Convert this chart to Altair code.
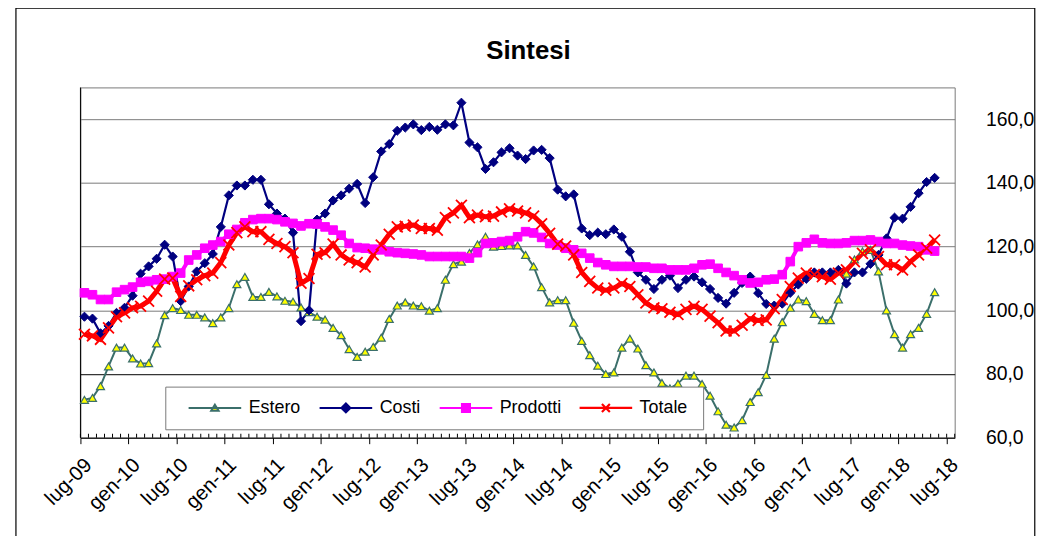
import altair as alt
import pandas as pd

series_names = ["Estero", "Costi", "Prodotti", "Totale"]

estero = [71.9, 72.5, 76.2, 82.4, 88.3, 88.3, 84.9, 83.3, 83.4, 89.6,
          98.5, 100.7, 100.1, 98.6, 98.6, 97.8, 96.0, 97.8, 100.7, 108.2,
          110.5, 104.2, 104.2, 105.8, 104.4, 103.0, 102.7, 100.9, 99.4, 98.0,
          97.1, 94.5, 92.2, 87.8, 85.4, 87.0, 88.5, 91.4, 97.3, 101.5,
          102.5, 101.5, 101.3, 99.9, 100.7, 109.6, 114.5, 115.3, 118.0, 120.7,
          123.1, 120.0, 120.2, 120.4, 120.4, 117.4, 113.8, 107.3, 102.5, 103.2,
          103.2, 96.1, 90.4, 85.9, 82.6, 80.0, 80.5, 88.3, 91.1, 88.0,
          82.8, 80.5, 77.2, 75.5, 77.0, 79.5, 79.5, 76.9, 73.2, 68.3,
          64.1, 63.2, 65.5, 71.2, 74.3, 79.7, 91.1, 96.3, 100.8, 103.4,
          102.9, 98.9, 96.9, 96.9, 103.4, 111.5, 116.0, 118.5, 119.0, 112.2,
          100.0, 92.5, 88.3, 92.5, 94.5, 98.9, 105.7]

costi = [98.0, 97.4, 92.8, 95.1, 99.2, 100.8, 104.6, 111.5, 113.8, 116.2,
         120.6, 116.9, 102.9, 107.5, 112.2, 114.8, 117.7, 126.2, 136.1, 139.2,
         139.2, 141.0, 141.0, 133.3, 130.4, 128.8, 124.4, 96.6, 100.0, 128.5,
         130.4, 134.5, 136.1, 138.2, 139.7, 133.7, 141.8, 149.9, 152.2, 156.4,
         157.4, 158.4, 156.6, 157.6, 156.7, 158.4, 158.1, 165.2, 152.7, 151.2,
         144.4, 146.5, 149.6, 150.9, 148.6, 147.5, 150.2, 150.4, 147.8, 137.9,
         135.8, 136.4, 125.7, 123.6, 124.4, 123.9, 125.4, 123.1, 118.4, 111.9,
         109.6, 106.7, 109.6, 110.9, 107.0, 109.6, 110.6, 108.8, 106.7, 103.9,
         102.1, 105.5, 108.6, 110.6, 105.4, 102.0, 101.5, 102.1, 105.5, 108.1,
         109.9, 111.9, 111.9, 111.9, 112.7, 108.4, 111.9, 111.9, 114.6, 117.4,
         122.6, 129.1, 128.8, 132.5, 136.8, 140.3, 141.6]

prodotti = [105.5, 104.9, 103.4, 103.4, 105.7, 106.5, 107.3, 108.8, 109.1, 109.6,
            109.8, 110.6, 111.7, 115.8, 117.4, 119.5, 120.5, 121.6, 123.9, 125.4,
            127.5, 128.5, 128.8, 128.8, 128.5, 127.8, 127.3, 126.5, 127.2, 127.1,
            126.2, 125.2, 123.6, 121.0, 119.7, 119.5, 119.2, 119.0, 118.4, 118.1,
            117.9, 117.7, 117.4, 116.9, 116.9, 116.9, 116.9, 116.9, 116.4, 118.1,
            121.0, 121.2, 121.6, 121.9, 123.1, 124.7, 124.3, 122.9, 121.0, 120.5,
            119.5, 119.0, 117.9, 116.4, 115.0, 114.3, 113.8, 113.8, 113.8, 113.6,
            113.6, 113.2, 113.2, 112.7, 112.7, 112.7, 113.2, 114.3, 114.5, 113.2,
            111.9, 110.9, 109.6, 108.6, 108.8, 109.6, 109.8, 111.2, 115.3, 120.0,
            121.2, 122.3, 121.2, 121.0, 121.0, 121.2, 121.9, 121.9, 122.1, 121.6,
            121.0, 121.0, 120.5, 120.2, 120.0, 119.0, 118.6]

totale = [92.5, 92.0, 90.9, 94.5, 98.0, 99.2, 100.8, 101.3, 102.9, 106.0,
          109.8, 110.1, 104.4, 107.7, 109.6, 110.9, 111.7, 115.0, 120.5, 124.4,
          126.2, 124.7, 124.7, 122.3, 121.0, 120.0, 118.1, 108.5, 110.0, 117.6,
          118.1, 120.8, 117.4, 115.8, 115.0, 113.6, 117.4, 120.5, 123.9, 126.2,
          126.4, 126.8, 125.7, 125.7, 125.2, 129.1, 130.6, 133.0, 129.1, 129.9,
          129.4, 129.6, 130.9, 131.9, 131.2, 130.6, 129.6, 127.2, 124.2, 120.8,
          120.2, 117.4, 111.9, 109.1, 107.0, 106.3, 107.0, 108.4, 107.5, 104.9,
          102.3, 100.8, 100.5, 99.4, 98.7, 100.3, 101.3, 100.3, 98.2, 96.1,
          93.5, 93.5, 95.3, 97.4, 96.8, 97.0, 100.5, 103.4, 107.5, 110.1,
          111.7, 111.2, 110.6, 109.8, 111.7, 112.7, 115.3, 117.9, 119.0, 116.9,
          114.3, 114.3, 112.7, 115.3, 117.4, 119.5, 122.1]

tick_labels = ["lug-09", "gen-10", "lug-10", "gen-11", "lug-11", "gen-12",
               "lug-12", "gen-13", "lug-13", "gen-14", "lug-14", "gen-15",
               "lug-15", "gen-16", "lug-16", "gen-17", "lug-17", "gen-18",
               "lug-18"]
n_months = 109  # monthly categories from lug-09 to lug-18
y_ticks = [60, 80, 100, 120, 140, 160]

line_colors = ["#3b6f6b", "#000080", "#ff00ff", "#ff0000"]
marker_fills = ["#ffff00", "#000080", "#ff00ff", "#ff0000"]
line_widths = [2, 2.2, 4, 5]

rows = []
for name, vals in zip(series_names, [estero, costi, prodotti, totale]):
    for i, v in enumerate(vals):
        rows.append({"series": name, "m": i + 0.5, "v": v})
df = pd.DataFrame(rows)
ticks_df = pd.DataFrame({"m": list(range(n_months + 1))})

W, H = 881, 353
FONT = "Liberation Sans"

xscale = alt.Scale(domain=[0, n_months], nice=False, zero=False)
yscale = alt.Scale(domain=[60, 170], nice=False, zero=False)

label_array = "[" + ",".join("'%s'" % l for l in tick_labels) + "]"
x_axis = alt.Axis(values=list(range(0, n_months + 1, 6)),
                  labelExpr=label_array + "[round(datum.value/6)]",
                  labelAngle=-45, labelAlign="right", labelBaseline="middle",
                  labelFont=FONT, labelFontSize=20.5, labelColor="black",
                  labelPadding=18, labelOffset=8, labelOverlap=False,
                  labelFlush=False, tickSize=6, tickColor="black",
                  domainColor="black", grid=False, title=None)
y_axis = alt.Axis(orient="right", values=y_ticks,
                  labelExpr="replace(format(datum.value, '.1f'), '.', ',')",
                  labelFont=FONT, labelFontSize=19.5, labelColor="black",
                  labelPadding=31, ticks=False, domain=False, grid=True,
                  gridColor={"condition": {"test": "datum.value === 80", "value": "#000000"},
                             "value": "#7a7a7a"},
                  gridWidth=1, title=None)

x_enc = alt.X("m:Q", scale=xscale, axis=x_axis)
y_enc = alt.Y("v:Q", scale=yscale, axis=y_axis)

outer = alt.Chart(pd.DataFrame({"a": [0]})).mark_rect(
    fill=None, stroke="#000000", strokeWidth=1.2, clip=False
).encode(x=alt.value(-65), x2=alt.value(961.7), y=alt.value(-80), y2=alt.value(470))

minor = alt.Chart(ticks_df).mark_rule(color="black", strokeWidth=1).encode(
    x=x_enc, y=alt.value(H - 4), y2=alt.value(H))

left_line = alt.Chart(pd.DataFrame({"a": [0]})).mark_rule(color="black", strokeWidth=1).encode(
    x=alt.value(0), y=alt.value(0), y2=alt.value(H))

lines = []
for name, c, w in zip(series_names, line_colors, line_widths):
    lines.append(alt.Chart(df).transform_filter(alt.datum.series == name)
                 .mark_line(stroke=c, strokeWidth=w)
                 .encode(x=x_enc, y=y_enc))

x_path = "M-1,-1L1,1M-1,1L1,-1"
points = [
    alt.Chart(df).transform_filter(alt.datum.series == "Estero").mark_point(
        shape="triangle-up", size=65, filled=True, fill="#ffff00", stroke="#3b6f6b",
        strokeWidth=1.2, opacity=1).encode(x=x_enc, y=y_enc),
    alt.Chart(df).transform_filter(alt.datum.series == "Costi").mark_point(
        shape="diamond", size=85, filled=True, fill="#000080", stroke="#000080",
        strokeWidth=1, opacity=1).encode(x=x_enc, y=y_enc),
    alt.Chart(df).transform_filter(alt.datum.series == "Prodotti").mark_point(
        shape="square", size=75, filled=True, fill="#ff00ff", stroke="#ff00ff",
        strokeWidth=1, opacity=1).encode(x=x_enc, y=y_enc),
    alt.Chart(df).transform_filter(alt.datum.series == "Totale").mark_point(
        shape=x_path, size=120, filled=False, stroke="#ff0000",
        strokeWidth=1.8, opacity=1).encode(x=x_enc, y=y_enc),
]

legend_box = alt.Chart(pd.DataFrame({"a": [0]})).mark_rect(
    fill="white", stroke="#7a7a7a", strokeWidth=1
).encode(x=alt.value(86), x2=alt.value(628), y=alt.value(302), y2=alt.value(345))

legend_paths = [
    "M-5.3,0H5.3M0,-0.65L0.75,0.55H-0.75Z",
    "M-5.3,0H5.3M0,-0.9L0.9,0L0,0.9L-0.9,0Z",
    "M-5.3,0H5.3M-0.8,-0.8H0.8V0.8H-0.8Z",
    "M-5.3,0H5.3M-0.8,-0.8L0.8,0.8M-0.8,0.8L0.8,-0.8",
]
legend_x = [109, 241, 362, 503]

legend_layers = []
for name, lx in zip(series_names, legend_x):
    leg = alt.Legend(orient="none", legendX=lx, legendY=314, direction="horizontal",
                     title=None, values=[name], symbolSize=100, symbolOffset=17.5,
                     labelOffset=25, labelFont=FONT, labelFontSize=18,
                     labelColor="black", padding=0)
    legend_layers.append(
        alt.Chart(pd.DataFrame({"series": series_names})).mark_point(
            clip=True, filled=True, size=100, opacity=1
        ).encode(
            x=alt.value(-500), y=alt.value(-500),
            shape=alt.Shape("series:N", scale=alt.Scale(domain=series_names, range=legend_paths), legend=leg),
            fill=alt.Fill("series:N", scale=alt.Scale(domain=series_names, range=marker_fills), legend=leg),
            stroke=alt.Stroke("series:N", scale=alt.Scale(domain=series_names, range=line_colors), legend=leg),
            strokeWidth=alt.StrokeWidth("series:N", scale=alt.Scale(domain=series_names, range=line_widths), legend=leg),
        )
    )

chart = alt.layer(outer, minor, left_line, *lines, *points, legend_box, *legend_layers).resolve_scale(
    shape="independent", fill="independent", stroke="independent", strokeWidth="independent"
).properties(
    width=W, height=H,
    title=alt.TitleParams("Sintesi", font=FONT, fontSize=26, fontWeight="bold", color="black",
                          anchor="middle", frame="group", dx=11, offset=-78, baseline="alphabetic"),
    autosize=alt.AutoSizeParams(type="none"),
    padding={"left": 73, "top": 78, "right": 90, "bottom": 97},
    background="white",
).configure_view(stroke="#7a7a7a", strokeWidth=1)

chart.save("out.html", embed_options={"renderer": "svg", "actions": False})
